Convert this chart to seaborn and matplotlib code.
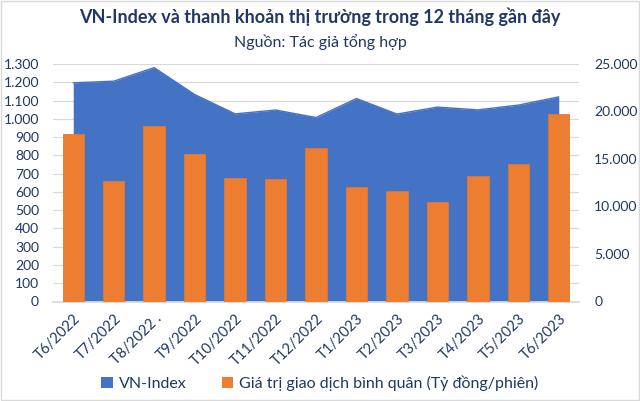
import matplotlib
matplotlib.use("Agg")
import matplotlib.pyplot as plt
import seaborn as sns
import pandas as pd
import numpy as np
from matplotlib.patches import Patch, Rectangle
from matplotlib.ticker import FuncFormatter, MultipleLocator

months = ["T6/2022", "T7/2022", "T8/2022 .", "T9/2022", "T10/2022", "T11/2022",
          "T12/2022", "T1/2023", "T2/2023", "T3/2023", "T4/2023", "T5/2023", "T6/2023"]
vnindex = [1197, 1206, 1280, 1133, 1027, 1048, 1007, 1111, 1026, 1064, 1049, 1075, 1120]
gtgd = [17640, 12710, 18500, 15560, 12950, 12920, 16160, 12080, 11580, 10460, 13240, 14470, 19780]

BLUE = "#4472C4"
ORANGE = "#ED7D31"
NAVY = "#1F3864"
GRID = "#D9D9D9"

sns.set_theme(style="white")
plt.rcParams["font.family"] = ["Lato", "DejaVu Sans"]

df = pd.DataFrame({"month": months, "vnindex": vnindex, "gtgd": gtgd})

fig = plt.figure(figsize=(6.4, 4.01), dpi=100)
ax = fig.add_axes([53/640, 1 - 301.5/401, (579-53)/640, (301.5-64)/401])
ax2 = ax.twinx()

x = np.arange(len(months))
ax.fill_between(x, df["vnindex"], 0, color=BLUE, linewidth=0, zorder=2)
sns.lineplot(x=x, y=df["vnindex"], ax=ax, color=BLUE, linewidth=1, zorder=3)

sns.barplot(data=df, x="month", y="gtgd", ax=ax2, color=ORANGE, width=0.53,
            saturation=1, edgecolor="#E0782F", linewidth=0.6, zorder=3)

ax.set_xlim(-0.5, len(months) - 0.5)
ax2.set_xlim(-0.5, len(months) - 0.5)
ax.set_ylim(0, 1300)
ax2.set_ylim(0, 25000)
ax.yaxis.set_major_locator(MultipleLocator(100))
ax2.yaxis.set_major_locator(MultipleLocator(5000))

fmt = FuncFormatter(lambda v, p: f"{int(v):,}".replace(",", "."))
ax.yaxis.set_major_formatter(fmt)
ax2.yaxis.set_major_formatter(fmt)

ax.grid(axis="y", color=GRID, linewidth=0.9, zorder=0)
ax.set_axisbelow(True)
ax2.grid(False)

for a in (ax, ax2):
    for s in a.spines.values():
        s.set_visible(False)
    a.set_xlabel("")
    a.set_ylabel("")
    a.tick_params(length=0, colors=NAVY, labelsize=10)
ax.spines["bottom"].set_visible(True)
ax.spines["bottom"].set_color(GRID)
ax.spines["bottom"].set_zorder(5)

ax.tick_params(axis="y", pad=10)
ax2.tick_params(axis="y", pad=11)
ax.set_xticks(x)
ax.set_xticklabels(months, rotation=45, ha="right", rotation_mode="anchor",
                   color=NAVY, fontsize=10.5)
ax.tick_params(axis="x", pad=7)

fig.text(0.5, 1 - 17/401, "VN-Index và thanh khoản thị trường trong 12 tháng gần đây",
         ha="center", va="center", fontsize=13, fontweight="bold", color=NAVY)
fig.text(0.5, 1 - 42/401, "Nguồn: Tác giả tổng hợp",
         ha="center", va="center", fontsize=11.5, color=NAVY)

handles = [Patch(facecolor=BLUE, edgecolor="none", label="VN-Index"),
           Patch(facecolor=ORANGE, edgecolor="none", label="Giá trị giao dịch bình quân (Tỷ đồng/phiên)")]
leg = fig.legend(handles=handles, loc="center", bbox_to_anchor=(0.5, 1 - 383/401), ncol=2,
                 frameon=False, handlelength=0.7, handleheight=0.7, handletextpad=0.4,
                 columnspacing=2.2, fontsize=11.5)
for t in leg.get_texts():
    t.set_color(NAVY)

fig.patches.append(Rectangle((0.002, 0.002), 0.996, 0.996, transform=fig.transFigure,
                             fill=False, edgecolor="#D9D9D9", linewidth=1))

fig.savefig("out.png", dpi=100)
